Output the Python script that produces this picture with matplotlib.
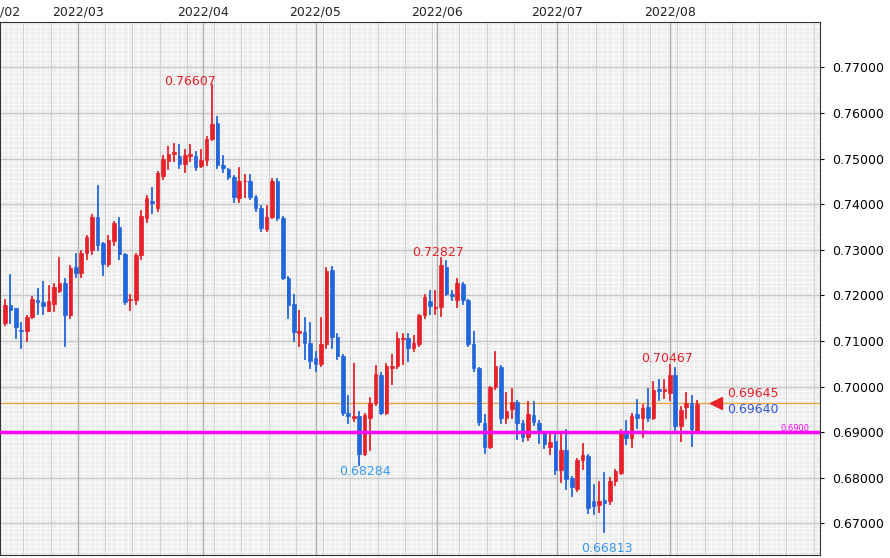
import numpy as np
import matplotlib.pyplot as plt
from matplotlib.patches import Rectangle

# daily candles, AUD/USD-ish, Feb..Aug 2022
opens = [.7139, .7178, .7172, .7124, .7121, .7152, .7190, .7185, .7165, .7180,
         .7210, .7228, .7157, .7262, .7250, .7294, .7300, .7371, .7315, .7268,
         .7320, .7350, .7290, .7190, .7190, .7288, .7369, .7408, .7391, .7462,
         .7495, .7510, .7506, .7489, .7505, .7506, .7483, .7496, .7544, .7578,
         .7485, .7478, .7460, .7413, .7450, .7452, .7415, .7391, .7345, .7373,
         .7450, .7369, .7239, .7180, .7117, .7120, .7095, .7062, .7049, .7093,
         .7255, .7108, .7068, .6943, .6932, .6935, .6851, .6930, .6963, .7025,
         .6943, .7040, .7044, .7104, .7106, .7084, .7093, .7156, .7188, .7172,
         .7174, .7263, .7204, .7189, .7226, .7189, .7093, .7040, .6920, .6867,
         .6998, .7042, .6932, .6950, .6966, .6919, .6889, .6938, .6921, .6897,
         .6868, .6880, .6816, .6860, .6800, .6776, .6838, .6848, .6748, .6740,
         .6752, .6750, .6792, .6810, .6903, .6888, .6940, .6932, .6955, .6930,
         .6994, .6990, .6985, .7025, .6913, .6955, .6963, .6903]
closes = [.7178, .7169, .7130, .7121, .7152, .7193, .7185, .7176, .7187, .7218,
          .7228, .7156, .7261, .7250, .7294, .7327, .7371, .7310, .7268, .7321,
          .7358, .7290, .7185, .7192, .7288, .7375, .7413, .7402, .7468, .7500,
          .7511, .7514, .7489, .7507, .7511, .7481, .7496, .7544, .7577, .7485,
          .7479, .7460, .7415, .7452, .7452, .7415, .7391, .7347, .7373, .7452,
          .7369, .7239, .7178, .7119, .7121, .7095, .7055, .7049, .7093, .7253,
          .7108, .7068, .6943, .6935, .6936, .6851, .6937, .6963, .7027, .6943,
          .7044, .7044, .7106, .7106, .7084, .7095, .7156, .7196, .7176, .7175,
          .7266, .7204, .7198, .7228, .7189, .7093, .7040, .6922, .6867, .6998,
          .7044, .6932, .6946, .6965, .6919, .6889, .6939, .6923, .6897, .6875,
          .6878, .6816, .6860, .6797, .6779, .6838, .6849, .6733, .6739, .6750,
          .6745, .6792, .6814, .6903, .6888, .6936, .6932, .6954, .6932, .6992,
          .6990, .6994, .7025, .6913, .6948, .6963, .6906, .6961]
highs = [.7189, .7244, .7160, .7140, .7155, .7197, .7215, .7230, .7220, .7225,
         .7283, .7235, .7265, .7290, .7298, .7330, .7377, .7441, .7315, .7330,
         .7362, .7370, .7290, .7200, .7290, .7385, .7418, .7435, .7470, .7505,
         .7525, .7532, .7529, .7520, .7530, .7515, .7520, .7548, .7661, .7592,
         .7505, .7478, .7462, .7480, .7465, .7465, .7418, .7395, .7395, .7455,
         .7455, .7372, .7240, .7200, .7165, .7150, .7140, .7075, .7150, .7260,
         .7262, .7115, .7070, .6980, .7050, .6945, .6940, .6975, .7045, .7030,
         .7050, .7070, .7118, .7115, .7115, .7110, .7158, .7200, .7210, .7210,
         .7283, .7275, .7210, .7236, .7228, .7190, .7120, .7040, .6938, .7000,
         .7075, .7045, .6985, .6995, .6968, .6925, .6965, .6965, .6925, .6900,
         .6900, .6895, .6900, .6905, .6802, .6842, .6875, .6850, .6785, .6790,
         .6810, .6800, .6818, .6905, .6925, .6940, .6970, .6960, .6995, .7010,
         .7015, .7015, .7047, .7040, .6955, .6985, .6980, .6968]
lows = [.7134, .7140, .7106, .7084, .7100, .7150, .7160, .7160, .7165, .7165,
        .7208, .7090, .7150, .7240, .7240, .7280, .7290, .7300, .7245, .7265,
        .7310, .7280, .7180, .7168, .7180, .7280, .7360, .7380, .7385, .7455,
        .7478, .7495, .7480, .7470, .7495, .7475, .7482, .7485, .7540, .7480,
        .7470, .7455, .7405, .7405, .7415, .7412, .7385, .7342, .7342, .7370,
        .7365, .7235, .7150, .7100, .7090, .7060, .7040, .7035, .7045, .7085,
        .7085, .7060, .6938, .6920, .6925, .6828, .6850, .6860, .6960, .6940,
        .6940, .7005, .7040, .7050, .7055, .7078, .7090, .7150, .7160, .7160,
        .7155, .7200, .7190, .7175, .7180, .7090, .7035, .6915, .6855, .6865,
        .6995, .6920, .6920, .6930, .6885, .6880, .6883, .6915, .6877, .6865,
        .6852, .6808, .6790, .6775, .6760, .6770, .6820, .6722, .6720, .6725,
        .6681, .6742, .6785, .6808, .6875, .6868, .6910, .6890, .6925, .6928,
        .6970, .6975, .6970, .6905, .6880, .6930, .6870, .6900]

month_labels = ['/02', '2022/03', '2022/04', '2022/05', '2022/06', '2022/07', '2022/08']
month_pos = [-1.5, 13.4, 36.3, 57.0, 79.3, 101.3, 122.0]
yticks = [0.67, 0.68, 0.69, 0.70, 0.71, 0.72, 0.73, 0.74, 0.75, 0.76, 0.77]

UP = '#e8202a'
DOWN = '#2266dd'

fig = plt.figure(figsize=(8.9, 5.58), dpi=100)
ax = fig.add_axes([0.0, 0.005, 0.921, 0.955])
ax.set_facecolor('#eeeeee')
xmin, xmax = -0.9, 149.5
ax.set_xlim(xmin, xmax)
ax.set_ylim(0.6630, 0.7799)

# dense minor grid
for xv in np.arange(-0.5, xmax, 1.0):
    ax.axvline(xv, color='white', lw=0.5, zorder=0)
for yv in np.arange(0.663, 0.78, 0.001):
    ax.axhline(yv, color='white', lw=0.5, zorder=0)
for yv in yticks:
    ax.axhline(yv, color='#c8c8c8', lw=0.9, zorder=1)
for xv in month_pos[1:]:
    ax.axvline(xv, color='#b0b0b0', lw=1.0, zorder=1)
for xv in np.arange(month_pos[1] - 10, 150, 5):
    ax.axvline(xv, color='#d0d0d0', lw=0.7, zorder=0.5)

ax.axhline(0.69645, color='#f0a040', lw=0.9, zorder=2)
ax.axhline(0.6900, color='#ff00ff', lw=2.5, zorder=4)

for i, (o, c, h, l) in enumerate(zip(opens, closes, highs, lows)):
    col = UP if c >= o else DOWN
    ax.plot([i, i], [l, h], color=col, lw=1.3, zorder=3)
    bot = min(o, c)
    ht = max(abs(c - o), 0.0002)
    ax.add_patch(Rectangle((i - 0.33, bot), 0.66, ht, facecolor=col,
                           edgecolor=col, lw=0.5, zorder=3))

# annotations
ax.text(34, 0.7670, '0.76607', color=UP, fontsize=9, ha='center', va='center')
ax.text(79.5, 0.7294, '0.72827', color=UP, fontsize=9, ha='center', va='center')
ax.text(121.5, 0.7061, '0.70467', color=UP, fontsize=9, ha='center', va='center')
ax.text(66, 0.6814, '0.68284', color='#3399ee', fontsize=9, ha='center', va='center')
ax.text(110.5, 0.6644, '0.66813', color='#3399ee', fontsize=9, ha='center', va='center')
ax.plot([130.5], [0.69645], marker='<', color=UP, ms=8, zorder=5)
ax.text(132.5, 0.6985, '0.69645', color=UP, fontsize=9, va='center')
ax.text(132.5, 0.6950, '0.69640', color='#3355dd', fontsize=9, va='center')
ax.text(142.3, 0.6908, '0.6900', color='#ff00ff', fontsize=6, va='center')

ax.set_xticks([])
ax.yaxis.tick_right()
ax.set_yticks(yticks)
ax.set_yticklabels(['%.5f' % v for v in yticks], fontsize=9)
ax.tick_params(axis='y', length=3, pad=6)
for sp in ax.spines.values():
    sp.set_color('#333333')

for lab, xp in zip(month_labels, month_pos):
    fx = (xp - xmin) / (xmax - xmin) * 0.921
    fig.text(fx, 0.978, lab, fontsize=9, ha='left' if lab == '/02' else 'center',
             va='center', color='#222222')
    if lab == '/02':
        fig.texts[-1].set_x(0.0)

fig.savefig('out.png', dpi=100)
